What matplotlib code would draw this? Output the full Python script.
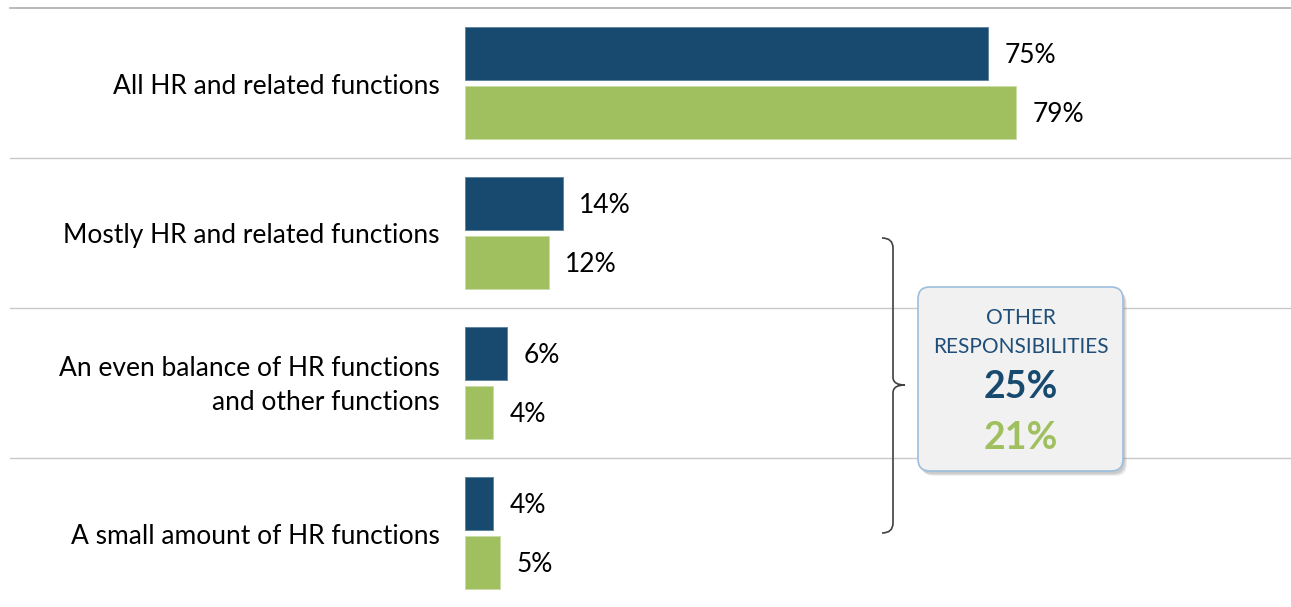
import matplotlib.pyplot as plt
import numpy as np
from matplotlib.patches import FancyBboxPatch
from matplotlib.path import Path
from matplotlib.patches import PathPatch

plt.rcParams['font.family'] = ['Lato', 'DejaVu Sans']

categories = ['All HR and related functions',
              'Mostly HR and related functions',
              'An even balance of HR functions\nand other functions',
              'A small amount of HR functions']
dark_vals = [75, 14, 6, 4]
green_vals = [79, 12, 4, 5]
callout_title = ['OTHER', 'RESPONSIBILITIES']
callout_dark = '25%'
callout_green = '21%'

dark = '#174A6E'
green = '#A0C060'

W, H = 1291, 607
fig = plt.figure(figsize=(W / 100, H / 100), dpi=100)

# pixel overlay for rules, brace and callout
bg = fig.add_axes([0, 0, 1, 1])
bg.set_xlim(0, W)
bg.set_ylim(H, 0)
bg.axis('off')

# bar axes: x in percent, y in pixels (0 at top)
ax = fig.add_axes([0, 0, 1, 1], facecolor='none')
px = 6.97
ax.set_xlim(-465 / px, (W - 465) / px)
ax.set_ylim(H, 0)
ax.axis('off')

n = len(categories)
centers = 83 + 150 * np.arange(n)
bh = 53
off = 29.5

ax.barh(centers - off, dark_vals, height=bh, color=dark, edgecolor='#5B7FA0', linewidth=0.6)
ax.barh(centers + off, green_vals, height=bh, color=green, edgecolor='#C8DCA8', linewidth=0.6)

for c, d, g, lab in zip(centers, dark_vals, green_vals, categories):
    ax.text(d + 2.4, c - off + 2, f'{d}%', va='center', ha='left', fontsize=19, color='black')
    ax.text(g + 2.4, c + off + 2, f'{g}%', va='center', ha='left', fontsize=19, color='black')
    ax.text(-25 / px, c + 3, lab, va='center', ha='right', fontsize=19, color='black',
            linespacing=1.45)

# separator lines
for i, yb in enumerate(centers - 75):
    bg.plot([10, W], [yb, yb], color='#A6A6A6' if i == 0 else '#C8C8C8', lw=1.1 if i == 0 else 1, zorder=0)

# brace
yt, yb2, ym = 238, 533, 385
verts = [(882, yt), (893, yt), (893, yt + 10),
         (893, ym - 8),
         (893, ym - 2), (898, ym), (905, ym),
         (898, ym), (893, ym + 2), (893, ym + 8),
         (893, yb2 - 10),
         (893, yb2), (882, yb2)]
codes = [Path.MOVETO, Path.CURVE3, Path.CURVE3,
         Path.LINETO,
         Path.CURVE4, Path.CURVE4, Path.CURVE4,
         Path.CURVE4, Path.CURVE4, Path.CURVE4,
         Path.LINETO,
         Path.CURVE3, Path.CURVE3]
bg.add_patch(PathPatch(Path(verts, codes), fill=False, edgecolor='#404040', lw=1.2))

# callout box with soft shadow
bx, by, bw, bhh = 918, 287, 205, 184
for k, a in [(5, 0.12), (4, 0.15), (3, 0.2)]:
    bg.add_patch(FancyBboxPatch((bx + k - 1, by + k), bw, bhh, boxstyle='round,pad=0,rounding_size=12',
                                facecolor='#808080', edgecolor='none', alpha=a, zorder=2))
box = FancyBboxPatch((bx, by), bw, bhh, boxstyle='round,pad=0,rounding_size=12',
                     facecolor='#F1F1F1', edgecolor='#9DBEDC', lw=1.2, zorder=3)
bg.add_patch(box)
cx = bx + bw / 2
bg.text(cx, 318, callout_title[0], ha='center', va='center', fontsize=15, color='#1F4E79', zorder=4)
bg.text(cx, 347, callout_title[1], ha='center', va='center', fontsize=15, color='#1F4E79', zorder=4)
bg.text(cx, 387, callout_dark, ha='center', va='center', fontsize=27, fontweight='bold',
        color=dark, zorder=4)
bg.text(cx, 438, callout_green, ha='center', va='center', fontsize=27, fontweight='bold',
        color=green, zorder=4)

fig.savefig('out.png', dpi=100)
